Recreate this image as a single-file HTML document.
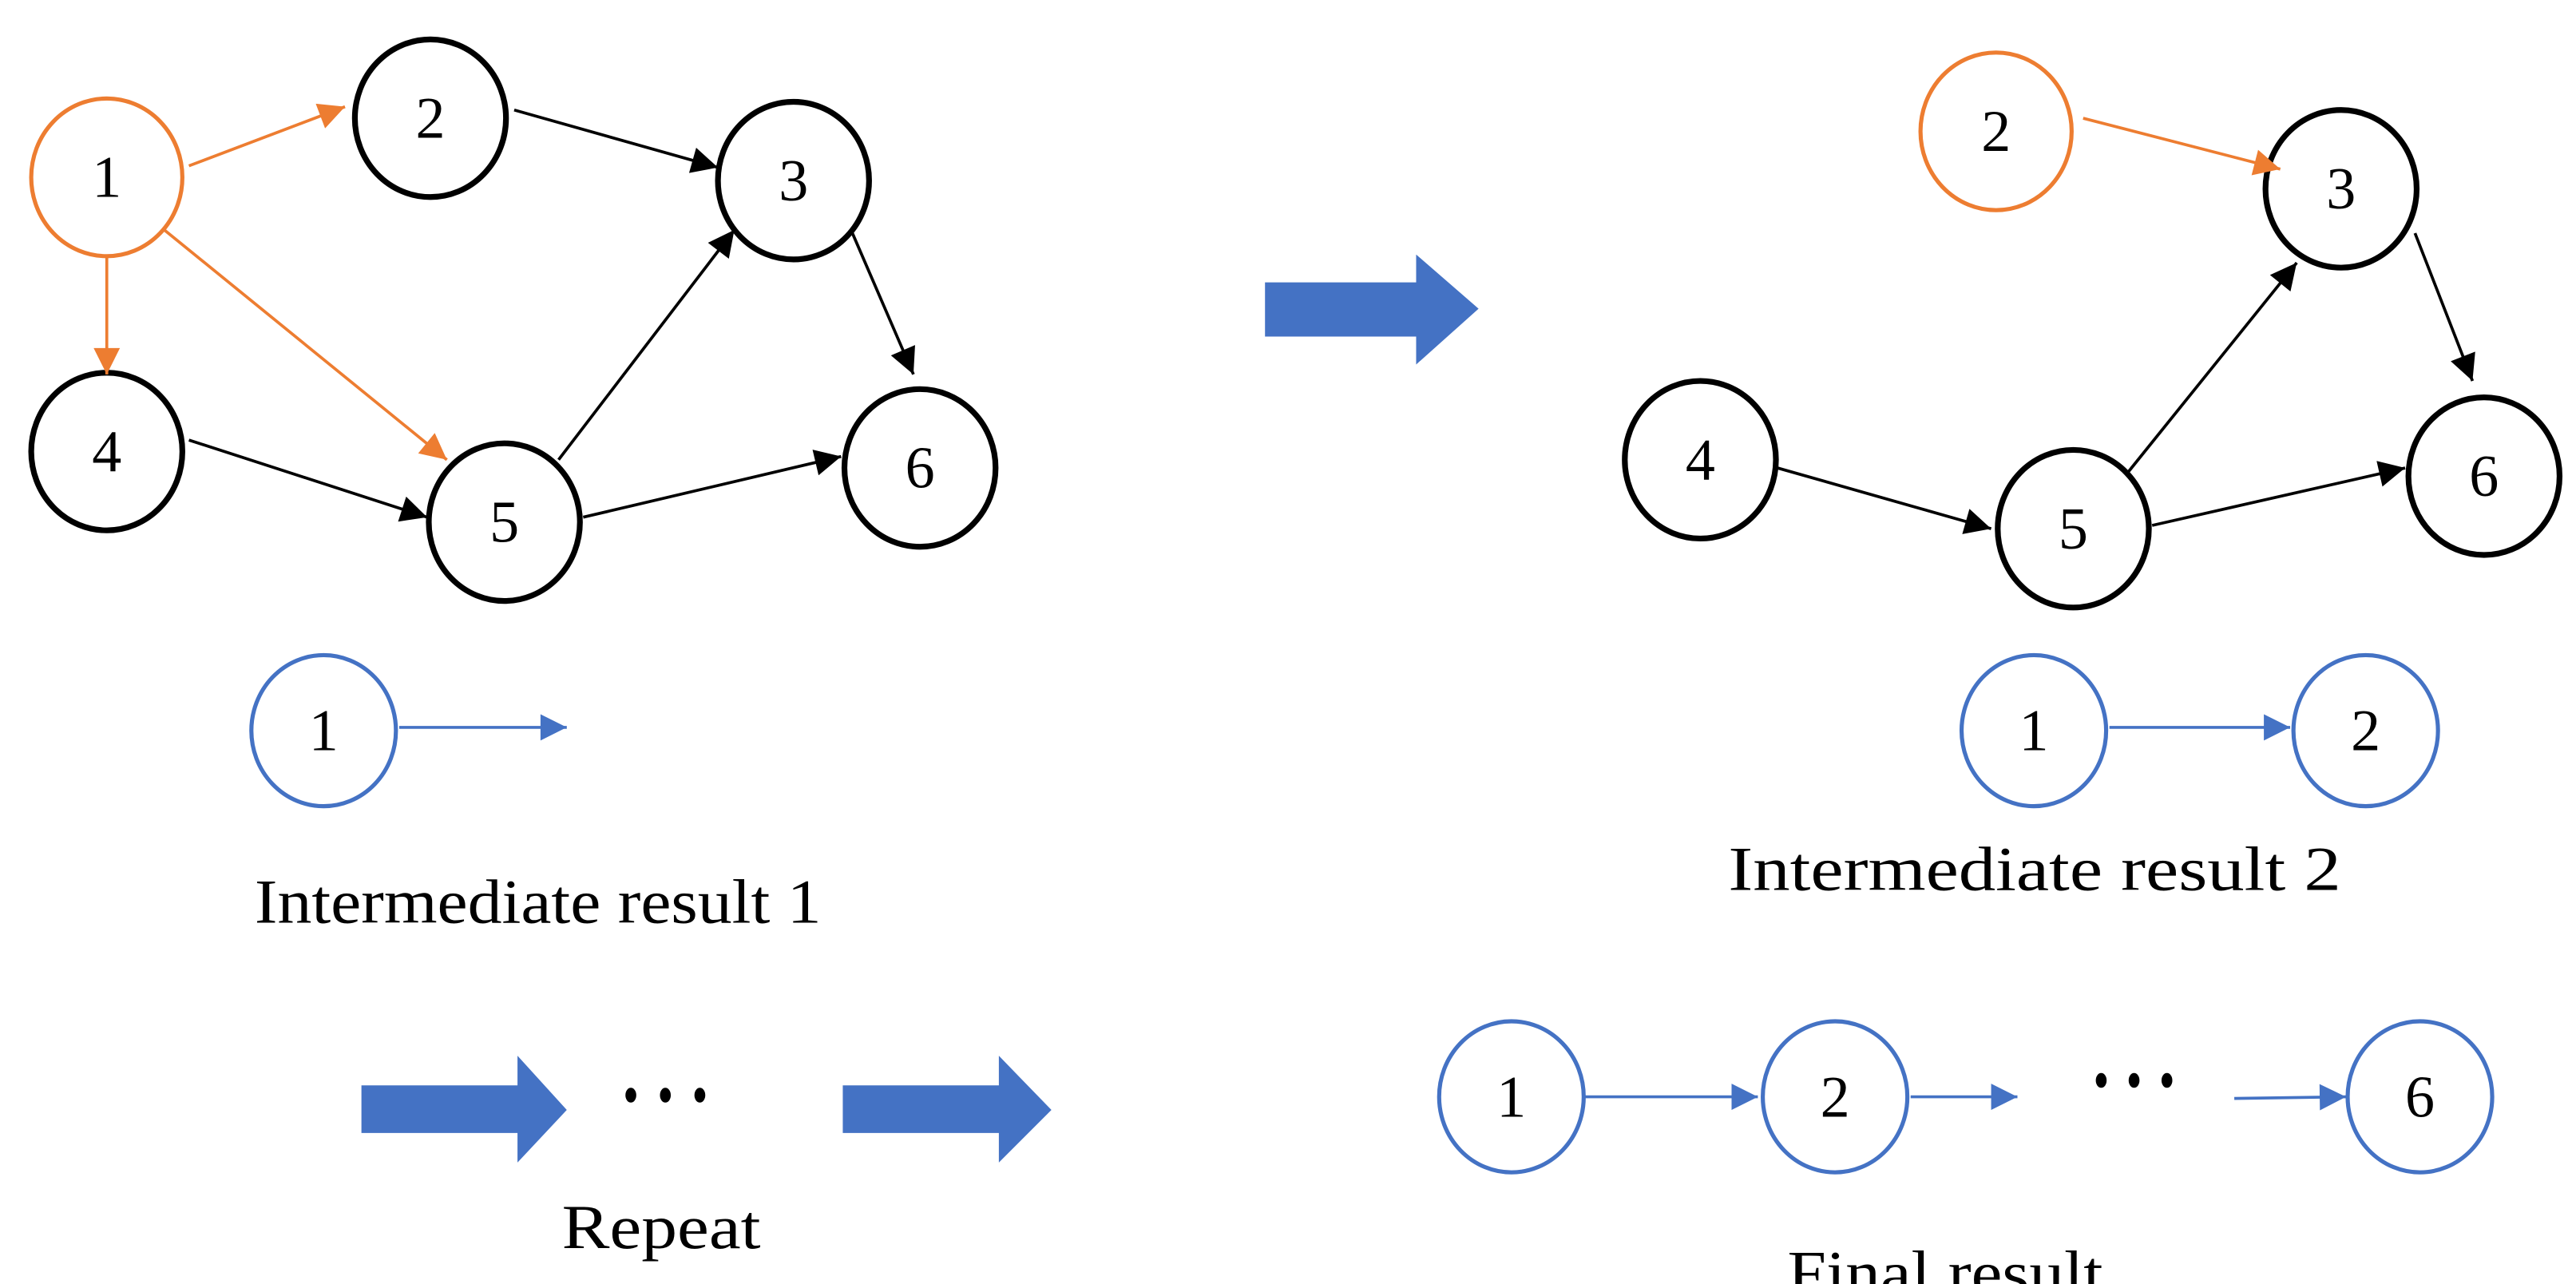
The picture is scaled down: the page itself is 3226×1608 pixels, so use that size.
<!DOCTYPE html>
<html><head><meta charset="utf-8"><style>
html,body{margin:0;padding:0;background:#fff;}
svg{display:block;}
text{font-family:"Liberation Serif",serif;fill:#000;}
</style></head><body>
<svg width="3226" height="1608" viewBox="0 0 1568 782" preserveAspectRatio="none" xmlns="http://www.w3.org/2000/svg">
<defs>
<marker id="ab" viewBox="0 0 10 10" refX="10" refY="5" markerWidth="22" markerHeight="16" markerUnits="userSpaceOnUse" orient="auto"><path d="M0,0 L10,5 L0,10 z" fill="#000"/></marker>
<marker id="ao" viewBox="0 0 10 10" refX="10" refY="5" markerWidth="22" markerHeight="16" markerUnits="userSpaceOnUse" orient="auto"><path d="M0,0 L10,5 L0,10 z" fill="#ED7D31"/></marker>
<marker id="abl" viewBox="0 0 10 10" refX="10" refY="5" markerWidth="24" markerHeight="16" markerUnits="userSpaceOnUse" orient="auto"><path d="M0,0 L10,5 L0,10 z" fill="#4472C4"/></marker>
</defs>
<g font-size="36" text-anchor="middle">
<!-- left graph -->
<g fill="#fff" stroke-width="3.5">
<ellipse cx="65" cy="108" rx="46" ry="48" stroke="#ED7D31" stroke-width="2.5"/>
<ellipse cx="262" cy="72" rx="46" ry="48" stroke="#000"/>
<ellipse cx="483" cy="110" rx="46" ry="48" stroke="#000"/>
<ellipse cx="65" cy="275" rx="46" ry="48" stroke="#000"/>
<ellipse cx="307" cy="318" rx="46" ry="48" stroke="#000"/>
<ellipse cx="560" cy="285" rx="46" ry="48" stroke="#000"/>
</g>
<g stroke-width="1.8" fill="none">
<line x1="115" y1="101" x2="210" y2="65" stroke="#ED7D31" marker-end="url(#ao)"/>
<line x1="65" y1="155" x2="65" y2="228" stroke="#ED7D31" marker-end="url(#ao)"/>
<line x1="100" y1="140" x2="272" y2="280" stroke="#ED7D31" marker-end="url(#ao)"/>
<line x1="313" y1="67" x2="437" y2="102" stroke="#000" marker-end="url(#ab)"/>
<line x1="340" y1="280" x2="447" y2="140" stroke="#000" marker-end="url(#ab)"/>
<line x1="518" y1="140" x2="556" y2="228" stroke="#000" marker-end="url(#ab)"/>
<line x1="115" y1="268" x2="260" y2="315" stroke="#000" marker-end="url(#ab)"/>
<line x1="355" y1="315" x2="512" y2="278" stroke="#000" marker-end="url(#ab)"/>
</g>
<text x="65" y="120">1</text><text x="262" y="84">2</text><text x="483" y="122">3</text>
<text x="65" y="287">4</text><text x="307" y="330">5</text><text x="560" y="297">6</text>

<!-- big arrow -->
<path d="M770,172 H862 V155 L900,188 L862,222 V205 H770 z" fill="#4472C4"/>

<!-- right graph -->
<g fill="#fff" stroke-width="3.5">
<ellipse cx="1215" cy="80" rx="46" ry="48" stroke="#ED7D31" stroke-width="2.5"/>
<ellipse cx="1425" cy="115" rx="46" ry="48" stroke="#000"/>
<ellipse cx="1035" cy="280" rx="46" ry="48" stroke="#000"/>
<ellipse cx="1262" cy="322" rx="46" ry="48" stroke="#000"/>
<ellipse cx="1512" cy="290" rx="46" ry="48" stroke="#000"/>
</g>
<g stroke-width="1.8" fill="none">
<line x1="1268" y1="72" x2="1388" y2="103" stroke="#ED7D31" marker-end="url(#ao)"/>
<line x1="1295" y1="288" x2="1398" y2="160" stroke="#000" marker-end="url(#ab)"/>
<line x1="1470" y1="142" x2="1505" y2="232" stroke="#000" marker-end="url(#ab)"/>
<line x1="1082" y1="285" x2="1212" y2="322" stroke="#000" marker-end="url(#ab)"/>
<line x1="1310" y1="320" x2="1464" y2="285" stroke="#000" marker-end="url(#ab)"/>
</g>
<text x="1215" y="92">2</text><text x="1425" y="127">3</text><text x="1035" y="292">4</text>
<text x="1262" y="334">5</text><text x="1512" y="302">6</text>

<!-- intermediate 1 -->
<ellipse cx="197" cy="445" rx="44" ry="46" fill="#fff" stroke="#4472C4" stroke-width="2.5"/>
<text x="197" y="457">1</text>
<line x1="243" y1="443" x2="345" y2="443" stroke="#4472C4" stroke-width="1.8" marker-end="url(#abl)"/>
<text x="155" y="562" font-size="38" text-anchor="start" textLength="345" lengthAdjust="spacingAndGlyphs">Intermediate result 1</text>

<!-- intermediate 2 -->
<ellipse cx="1238" cy="445" rx="44" ry="46" fill="#fff" stroke="#4472C4" stroke-width="2.5"/>
<ellipse cx="1440" cy="445" rx="44" ry="46" fill="#fff" stroke="#4472C4" stroke-width="2.5"/>
<text x="1238" y="457">1</text><text x="1440" y="457">2</text>
<line x1="1284" y1="443" x2="1394" y2="443" stroke="#4472C4" stroke-width="1.8" marker-end="url(#abl)"/>
<text x="1052" y="542" font-size="38" text-anchor="start" textLength="373" lengthAdjust="spacingAndGlyphs">Intermediate result 2</text>

<!-- bottom arrows -->
<path d="M220,661 H315 V643 L345,676 L315,708 V690 H220 z" fill="#4472C4"/>
<path d="M513,661 H608 V643 L640,676 L608,708 V690 H513 z" fill="#4472C4"/>
<g fill="#000">
<ellipse cx="384" cy="667" rx="3.3" ry="4.5"/><ellipse cx="405" cy="667" rx="3.3" ry="4.5"/><ellipse cx="426" cy="667" rx="3.3" ry="4.5"/>
<ellipse cx="1279" cy="658" rx="3.3" ry="4.5"/><ellipse cx="1299" cy="658" rx="3.3" ry="4.5"/><ellipse cx="1319" cy="658" rx="3.3" ry="4.5"/>
</g>
<text x="342" y="760" font-size="38" text-anchor="start" textLength="121" lengthAdjust="spacingAndGlyphs">Repeat</text>

<!-- final -->
<ellipse cx="920" cy="668" rx="44" ry="46" fill="#fff" stroke="#4472C4" stroke-width="2.5"/>
<ellipse cx="1117" cy="668" rx="44" ry="46" fill="#fff" stroke="#4472C4" stroke-width="2.5"/>
<ellipse cx="1473" cy="668" rx="44" ry="46" fill="#fff" stroke="#4472C4" stroke-width="2.5"/>
<text x="920" y="680">1</text><text x="1117" y="680">2</text><text x="1473" y="680">6</text>
<line x1="965" y1="668" x2="1070" y2="668" stroke="#4472C4" stroke-width="1.8" marker-end="url(#abl)"/>
<line x1="1163" y1="668" x2="1228" y2="668" stroke="#4472C4" stroke-width="1.8" marker-end="url(#abl)"/>
<line x1="1360" y1="669" x2="1428" y2="668" stroke="#4472C4" stroke-width="1.8" marker-end="url(#abl)"/>
<text x="1088" y="788" font-size="38" text-anchor="start" textLength="192" lengthAdjust="spacingAndGlyphs">Final result</text>
</g>
</svg>
</body></html>
